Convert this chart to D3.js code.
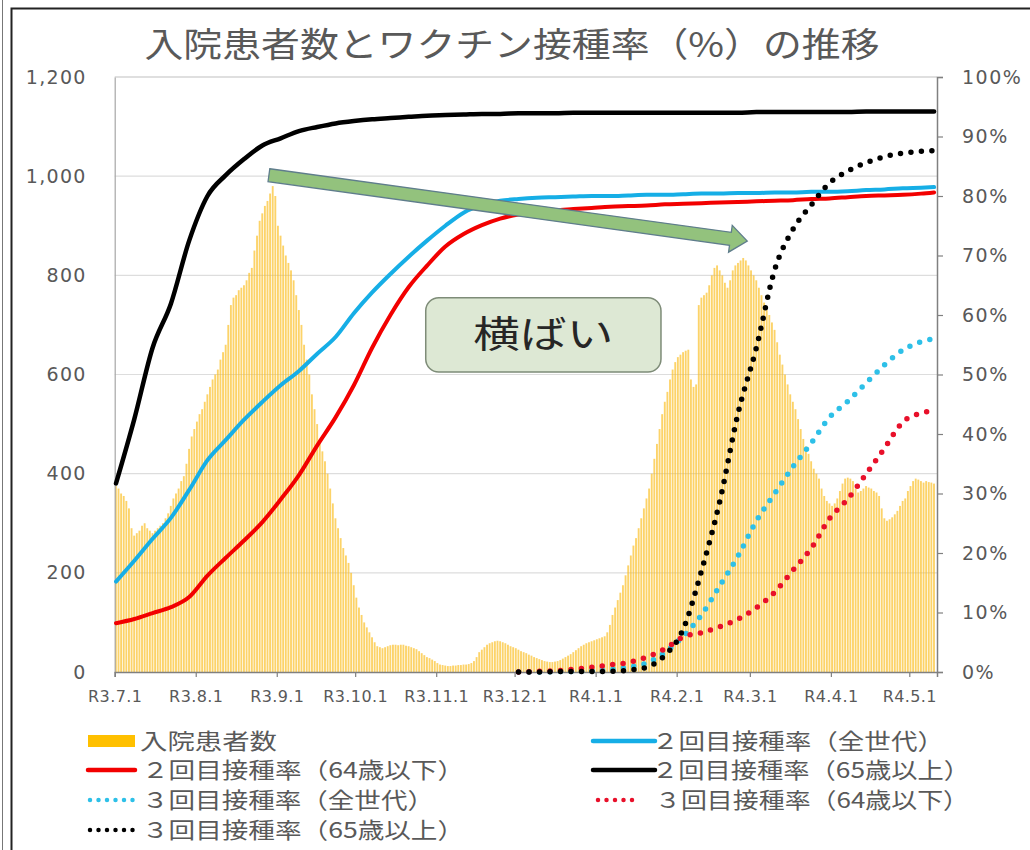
<!DOCTYPE html>
<html><head><meta charset="utf-8">
<script src="https://cdn.jsdelivr.net/npm/d3@7"></script>
<style>body{margin:0;background:#fff;} svg{display:block;font-family:"Noto Sans CJK JP","Noto Sans",sans-serif;}</style>
</head><body><svg id="c" width="1030" height="850"></svg>
<script>
// ---------------- DATA ----------------
const titleText = "入院患者数とワクチン接種率（%）の推移";
const startDate = "2021-07-01"; // first day of the daily bar series
// daily hospitalized patients, 2021-07-01 .. 2022-05-10
const hospitalized = [
375,370,360,355,345,330,290,275,280,285,
295,300,290,285,280,285,290,295,300,310,
320,335,350,360,370,385,395,420,450,475,
490,505,520,530,545,560,575,590,600,610,
630,645,660,700,740,755,760,770,775,780,
790,805,815,850,880,910,925,940,950,965,
980,960,900,880,860,840,825,810,790,760,
730,700,660,630,600,560,530,500,470,445,
425,400,370,340,310,290,270,250,235,220,
200,175,150,130,115,100,90,80,70,60,
52,50,48,50,52,54,55,55,54,55,
55,53,52,50,48,46,42,38,34,30,
28,25,22,18,15,14,13,12,12,13,
13,14,14,15,15,16,18,22,30,40,
45,50,55,58,60,62,63,62,60,58,
55,52,50,48,45,42,40,38,35,33,
30,28,26,24,22,21,20,20,21,22,
24,27,30,33,36,40,44,48,52,55,
58,60,62,64,66,68,70,72,80,95,
115,130,145,160,175,195,215,235,255,270,
290,310,330,350,370,400,430,460,490,520,
545,565,590,610,625,635,640,645,648,650,
590,575,580,740,755,760,765,780,800,815,
820,810,800,785,775,790,810,820,825,830,
835,830,820,810,800,790,775,760,745,730,
720,705,690,665,640,620,600,580,560,545,
530,510,490,470,455,440,425,410,400,390,
370,355,345,340,335,340,350,365,380,390,
392,390,385,370,362,365,370,375,372,370,
365,362,355,330,310,305,308,312,318,325,
335,345,350,365,375,385,390,388,385,382,
385,383,382,380
];
const lineDates = ["2021-07-01","2021-07-08","2021-07-15","2021-07-22","2021-07-29","2021-08-05","2021-08-12","2021-08-19","2021-08-26","2021-09-02","2021-09-09","2021-09-16","2021-09-23","2021-09-30","2021-10-07","2021-10-14","2021-10-21","2021-10-28","2021-11-04","2021-11-11","2021-11-18","2021-11-25","2021-12-02","2021-12-09","2021-12-16","2021-12-23","2021-12-30","2022-01-06","2022-01-13","2022-01-20","2022-01-27","2022-02-03","2022-02-10","2022-02-17","2022-02-24","2022-03-03","2022-03-10","2022-03-17","2022-03-24","2022-03-31","2022-04-07","2022-04-14","2022-04-21","2022-04-28","2022-05-05","2022-05-10"];
const dose2All = [15.2,18.7,22.4,25.9,30.6,35.6,39.0,42.4,45.4,48.2,50.6,53.5,56.3,60.3,63.8,66.9,69.8,72.5,75.0,77.2,78.5,79.2,79.5,79.7,79.8,79.9,80.0,80.0,80.1,80.2,80.2,80.3,80.4,80.4,80.5,80.5,80.6,80.6,80.7,80.7,80.8,81.0,81.1,81.3,81.4,81.5];
const dose2Under64 = [8.2,8.9,9.9,10.9,12.6,16.2,19.2,22.1,25.2,29.0,33.1,38.1,42.8,48.2,54.5,60.0,64.7,68.3,71.5,73.6,75.1,76.2,76.9,77.3,77.6,77.8,78.0,78.2,78.3,78.4,78.6,78.7,78.8,78.9,79.0,79.1,79.2,79.3,79.5,79.6,79.8,80.0,80.1,80.2,80.4,80.6];
const dose2Over65 = [31.7,42.5,54.5,61.9,72.5,80.0,83.5,86.2,88.5,89.7,90.9,91.6,92.2,92.6,92.9,93.1,93.3,93.5,93.6,93.7,93.8,93.8,93.9,93.9,93.9,94.0,94.0,94.0,94.0,94.0,94.0,94.0,94.0,94.0,94.0,94.1,94.1,94.1,94.1,94.1,94.1,94.2,94.2,94.2,94.2,94.2];
const dose3All = [null,null,null,null,null,null,null,null,null,null,null,null,null,null,null,null,null,null,null,null,null,null,0,0,0.05,0.1,0.2,0.4,0.8,1.5,3.3,6.0,9.6,14.5,19.5,25.4,30.0,34.5,38.5,42.8,45.5,48.6,51.6,54.1,55.5,56.0];
const dose3Under64 = [null,null,null,null,null,null,null,null,null,null,null,null,null,null,null,null,null,null,null,null,null,null,0,0.1,0.2,0.45,0.8,1.2,1.6,2.5,3.9,5.9,6.6,7.6,8.9,10.8,13.4,17.1,20.8,25.8,29.1,33.3,37.6,42.0,43.5,44.0];
const dose3Over65 = [null,null,null,null,null,null,null,null,null,null,null,null,null,null,null,null,null,null,null,null,null,null,0,0,0.05,0.1,0.1,0.1,0.3,0.8,2.8,7.2,17.0,28.7,43.5,54.5,67.6,74.4,78.5,82.2,84.2,85.6,86.6,87.2,87.5,87.6];
const xTickDates = ["2021-07-01","2021-08-01","2021-09-01","2021-10-01","2021-11-01","2021-12-01","2022-01-01","2022-02-01","2022-03-01","2022-04-01","2022-05-01"];
const xTickLabels = ["R3.7.1","R3.8.1","R3.9.1","R3.10.1","R3.11.1","R3.12.1","R4.1.1","R4.2.1","R4.3.1","R4.4.1","R4.5.1"];
const leftTicks = [0,200,400,600,800,1000,1200];
const rightTicks = [0,10,20,30,40,50,60,70,80,90,100];
const legendLabels = ["入院患者数","２回目接種率（全世代）","２回目接種率（64歳以下）","２回目接種率（65歳以上）","３回目接種率（全世代）","３回目接種率（64歳以下）","３回目接種率（65歳以上）"];
const annotationText = "横ばい";

// ---------------- CHART ----------------
const DAY = 86400000;
const P = d3.utcParse("%Y-%m-%d");
const t0 = P(startDate).getTime();
const svg = d3.select("#c");
const L = 114.7, R = 937, T = 77, B = 672;
const x = d3.scaleUtc().domain([new Date(t0), new Date(t0 + 314.6*DAY)]).range([L, R]);
const yL = d3.scaleLinear().domain([0,1200]).range([B, T]);
const yR = d3.scaleLinear().domain([0,100]).range([B, T]);
const grey = "#595959";

// frame
svg.append("line").attr("x1",2.5).attr("x2",2.5).attr("y1",0).attr("y2",850).attr("stroke","#777").attr("stroke-width",1);
svg.append("path").attr("d","M11.5,850V8.5H1030").attr("fill","none").attr("stroke","#222").attr("stroke-width",2);

// title
svg.append("text").attr("x",512).attr("y",57).attr("text-anchor","middle").attr("font-size",34).attr("fill",grey)
  .attr("textLength",735).attr("lengthAdjust","spacingAndGlyphs").text(titleText);

// gridlines
svg.append("g").selectAll("line").data(leftTicks.filter(v=>v>0)).join("line")
  .attr("x1",L).attr("x2",R).attr("y1",d=>yL(d)).attr("y2",d=>yL(d))
  .attr("stroke",d=>d===1200?"#BFBFBF":"#DDDDDD").attr("stroke-width",1.2);

// bars
const bw = x(new Date(t0+DAY)) - x(new Date(t0));
svg.append("g").selectAll("rect").data(hospitalized).join("rect")
  .attr("x",(d,i)=>x(new Date(t0+i*DAY))+0.25).attr("width",bw-0.75)
  .attr("y",d=>yL(d)).attr("height",d=>B-yL(d))
  .attr("fill","#FBBE22").attr("fill-opacity",0.68);

// axes
const tickFont = "'DejaVu Sans', Verdana, sans-serif";
const gL = svg.append("g").attr("transform",`translate(${L},0)`)
  .call(d3.axisLeft(yL).tickValues(leftTicks).tickSize(0).tickPadding(28).tickFormat(d3.format(",")));
gL.select(".domain").attr("stroke","#A6A6A6").attr("stroke-width",1.2);
gL.selectAll("text").style("font-family",tickFont).style("font-size","19px").style("letter-spacing","1.3px").attr("fill",grey);

const gR = svg.append("g").attr("transform",`translate(${R},0)`)
  .call(d3.axisRight(yR).tickValues(rightTicks).tickSize(6).tickPadding(19).tickFormat(d=>d+"%"));
gR.select(".domain").attr("stroke","#808080").attr("stroke-width",1.5);
gR.selectAll(".tick line").attr("stroke","#808080").attr("stroke-width",1.2);
gR.selectAll("text").style("font-family",tickFont).style("font-size","19px").style("letter-spacing","1.5px").attr("fill",grey);

const gB = svg.append("g").attr("transform",`translate(0,${B})`)
  .call(d3.axisBottom(x).tickValues(xTickDates.map(P)).tickSize(5).tickPadding(14).tickFormat((d,i)=>xTickLabels[i]));
gB.select(".domain").attr("stroke","#808080").attr("stroke-width",1.5);
gB.selectAll(".tick line").attr("stroke","#808080").attr("stroke-width",1.2);
gB.selectAll("text").style("font-family",tickFont).style("font-size","16px").style("letter-spacing","0.4px").attr("fill",grey);

// lines
const ld = lineDates.map(P);
const off = bw/2;
function drawLine(vals, color, dotted, w){
  const line = d3.line().defined(d=>d!=null).x((d,i)=>x(ld[i])+off).y(d=>yR(d)).curve(d3.curveMonotoneX);
  const p = svg.append("path").attr("d", line(vals)).attr("fill","none").attr("stroke",color)
    .attr("stroke-width",w).attr("stroke-linecap","round").attr("stroke-linejoin","round");
  if(dotted) p.attr("stroke-dasharray","0 10.5");
}
drawLine(dose2All,"#16AEE6",false,4);
drawLine(dose2Under64,"#F20000",false,4);
drawLine(dose2Over65,"#000000",false,4.5);
drawLine(dose3All,"#2EC0E8",true,5.5);
drawLine(dose3Under64,"#E8102A",true,5.5);
drawLine(dose3Over65,"#000000",true,5.5);

// annotation: arrow
const S = [x(P("2021-08-29")), yL(1002)], E = [x(P("2022-02-28")), yL(869)];
const ang = Math.atan2(E[1]-S[1], E[0]-S[0]) * 180/Math.PI;
const len = Math.hypot(E[0]-S[0], E[1]-S[1]);
const hw=6.5, hh=13.5, hl=17;
svg.append("path")
  .attr("d",`M0,${-hw}H${len-hl}V${-hh}L${len},0L${len-hl},${hh}V${hw}H0Z`)
  .attr("transform",`translate(${S[0]},${S[1]}) rotate(${ang})`)
  .attr("fill","#93C27D").attr("stroke","#5F7D8C").attr("stroke-width",1.3);

// annotation: text box
const bx0 = x(P("2021-10-28")), bx1 = x(P("2022-01-26")), by0 = yL(755), by1 = yL(605);
svg.append("rect").attr("x",bx0).attr("y",by0).attr("width",bx1-bx0).attr("height",by1-by0)
  .attr("rx",13).attr("fill","#DDE8D4").attr("stroke","#7E8C78").attr("stroke-width",1.5);
svg.append("text").attr("x",(bx0+bx1)/2).attr("y",(by0+by1)/2+13).attr("text-anchor","middle")
  .attr("font-size",37).attr("fill","#262626").attr("textLength",140).attr("lengthAdjust","spacingAndGlyphs").text(annotationText);

// legend
const lg = svg.append("g");
const items = [
  {lab:legendLabels[0], type:"bar", x0:88, x1:135, y:741, tx:140, tl:137},
  {lab:legendLabels[1], type:"line", color:"#16AEE6", x0:593, x1:655, y:741, tx:652, tl:292},
  {lab:legendLabels[2], type:"line", color:"#F20000", x0:88, x1:135, y:770, tx:142, tl:322},
  {lab:legendLabels[3], type:"line", color:"#000000", x0:593, x1:655, y:770, tx:652, tl:318},
  {lab:legendLabels[4], type:"dot", color:"#2EC0E8", x0:90, x1:135, y:800, tx:142, tl:292},
  {lab:legendLabels[5], type:"dot", color:"#E8102A", x0:598, x1:635, y:800, tx:655, tl:314},
  {lab:legendLabels[6], type:"dot", color:"#000000", x0:90, x1:135, y:830, tx:142, tl:322}
];
items.forEach(it=>{
  if(it.type==="bar"){
    lg.append("rect").attr("x",it.x0).attr("y",it.y-6).attr("width",it.x1-it.x0).attr("height",12).attr("fill","#FFC000");
  } else {
    const l = lg.append("line").attr("x1",it.x0).attr("x2",it.x1).attr("y1",it.y).attr("y2",it.y).attr("stroke",it.color)
      .attr("stroke-width",4.5).attr("stroke-linecap","round");
    if(it.type==="dot") l.attr("stroke-dasharray","0 8.5");
  }
  lg.append("text").attr("x",it.tx).attr("y",it.y+8).attr("font-size",22).attr("fill",grey)
    .attr("textLength",it.tl).attr("lengthAdjust","spacingAndGlyphs").text(it.lab);
});
</script></body></html>
